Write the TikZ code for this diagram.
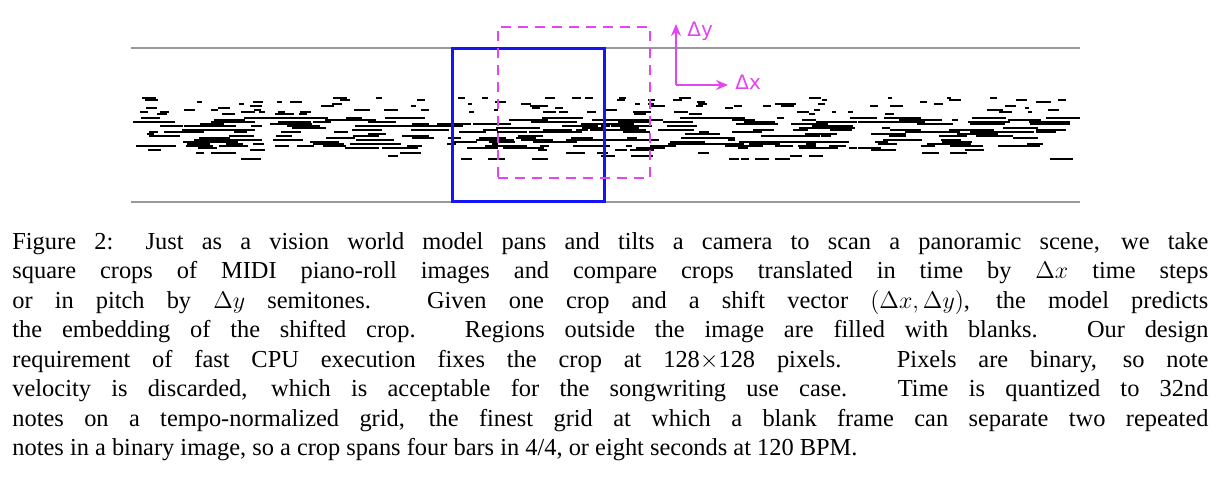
\documentclass[tikz,border=0pt]{standalone}
\usepackage{fontspec}
\setmainfont{Liberation Serif}
\newfontfamily\labfont{DejaVu Sans}
\usetikzlibrary{arrows.meta}
\definecolor{shiftmag}{RGB}{225,70,240}
\definecolor{cropblue}{RGB}{20,20,245}
\tikzstyle{rolledge}=[draw,gray!80,line width=0.7pt]
\tikzstyle{note}=[draw,black,line width=0.6pt]
\tikzstyle{crop}=[draw,cropblue,line width=1.5pt]
\tikzstyle{shifted crop}=[draw,shiftmag,line width=1.3pt,dash pattern=on 5pt off 3.5pt]
\tikzstyle{shift arrow}=[draw,shiftmag,line width=1.3pt,-{Stealth[length=6pt,width=5pt]}]
\tikzstyle{shift label}=[text=shiftmag,font=\labfont\fontsize{10}{12}\selectfont,inner sep=1pt]
\begin{document}
\begin{tikzpicture}[x=0.5pt,y=-0.5pt]
    \useasboundingbox (0,0) rectangle (1220,500);
    % Piano roll frame
    \coordinate (rollTL) at (131,48);
    \coordinate (rollTR) at (1080,48);
    \coordinate (rollBL) at (131,202);
    \coordinate (rollBR) at (1080,202);
    \path[rolledge] (rollTL) -- (rollTR);
    \path[rolledge] (rollBL) -- (rollBR);
    % Notes, accompaniment and melody
    \pgfmathsetseed{11}
    \foreach \i in {1,...,280}{
        \pgfmathsetmacro\nx{131+random(0,920)}
        \pgfmathsetmacro\nl{min(random(6,42),1080-\nx)}
        \pgfmathsetmacro\ny{118+2*random(0,15)}
        \path[note] (\nx,\ny) -- ++(\nl,0);}
    \foreach \i in {1,...,30}{
        \pgfmathsetmacro\nx{131+random(0,920)}
        \pgfmathsetmacro\nl{random(8,25)}
        \pgfmathsetmacro\ny{150+3*random(0,3)}
        \path[note] (\nx,\ny) -- ++(\nl,0);}
    \foreach \i in {1,...,110}{
        \pgfmathsetmacro\nx{131+random(0,935)}
        \pgfmathsetmacro\nl{random(4,14)}
        \pgfmathsetmacro\ny{98+2*random(0,8)}
        \path[note] (\nx,\ny) -- ++(\nl,0);}
    % Crops
    \node[crop,minimum width=76pt,minimum height=76.5pt,inner sep=0pt] (crop) at (528,124.5) {};
    \node[shifted crop,minimum width=76pt,minimum height=75.5pt,inner sep=0pt] (shifted) at (574,102.5) {};
    % Shift vector
    \coordinate (origin) at (676,85);
    \coordinate (up) at (676,24);
    \coordinate (right) at (728,85);
    \path[shift arrow] (origin) -- (up);
    \path[shift arrow] (origin) -- (right);
    \node[shift label,anchor=west] (dy) at (685,31) {Δy};
    \node[shift label,anchor=west] (dx) at (733,82) {Δx};
    % Caption
    \node[anchor=north west,inner sep=0pt,text width=598pt,align=justify,
          font=\fontsize{12.2}{14.75}\selectfont] (caption) at (12,232) {%
    Figure 2: Just as a vision world model pans and tilts a camera to scan a panoramic scene, we take\linebreak
    square crops of MIDI piano-roll images and compare crops translated in time by $\Delta x$ time steps\linebreak
    or in pitch by $\Delta y$ semitones. Given one crop and a shift vector $(\Delta x, \Delta y)$, the model predicts\linebreak
    the embedding of the shifted crop. Regions outside the image are filled with blanks. Our design\linebreak
    requirement of fast CPU execution fixes the crop at 128$\times$128 pixels. Pixels are binary, so note\linebreak
    velocity is discarded, which is acceptable for the songwriting use case. Time is quantized to 32nd\linebreak
    notes on a tempo-normalized grid, the finest grid at which a blank frame can separate two repeated\linebreak
    notes in a binary image, so a crop spans four bars in 4/4, or eight seconds at 120 BPM.};
\end{tikzpicture}
\end{document}
